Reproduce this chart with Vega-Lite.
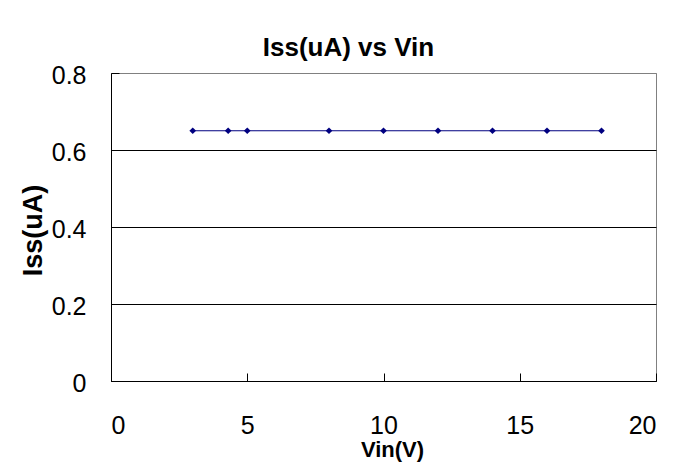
{
  "$schema": "https://vega.github.io/schema/vega-lite/v6.json",
  "width": 545,
  "height": 308,
  "autosize": "none",
  "padding": {"left": 111, "top": 73, "right": 27, "bottom": 87},
  "background": "white",
  "title": {"text": "Iss(uA) vs Vin", "font": "Liberation Sans", "fontSize": 26, "fontWeight": "bold", "color": "black", "offset": 2, "frame": "group", "anchor": "middle", "dx": -35},
  "data": {"values": [
    {"vin": 3, "iss": 0.65},
    {"vin": 4.3, "iss": 0.65},
    {"vin": 5, "iss": 0.65},
    {"vin": 8, "iss": 0.65},
    {"vin": 10, "iss": 0.65},
    {"vin": 12, "iss": 0.65},
    {"vin": 14, "iss": 0.65},
    {"vin": 16, "iss": 0.65},
    {"vin": 18, "iss": 0.65}
  ]},
  "encoding": {
    "x": {"field": "vin", "type": "quantitative", "scale": {"domain": [0, 20], "nice": false},
      "axis": {"values": [0, 5, 10, 15, 20], "title": "Vin(V)", "grid": false, "tickSize": -8, "tickColor": "black", "domainColor": "black", "labelFont": "Liberation Sans", "labelFontSize": 25, "labelColor": "black", "labelPadding": 40, "titleFont": "Liberation Sans", "titleFontSize": 22, "titleFontWeight": "bold", "titleColor": "black", "titleX": 281, "titleY": 58}},
    "y": {"field": "iss", "type": "quantitative", "scale": {"domain": [0, 0.8], "nice": false},
      "axis": {"values": [0, 0.2, 0.4, 0.6, 0.8], "format": ".1~f", "title": "Iss(uA)", "grid": true, "gridColor": {"condition": {"test": "datum.value === 0.8", "value": "#808080"}, "value": "black"}, "gridOpacity": 1, "tickSize": -8, "tickColor": "black", "domainColor": "black", "labelFont": "Liberation Sans", "labelFontSize": 25, "labelColor": "black", "labelPadding": 33, "labelOffset": 2, "titleFont": "Liberation Sans", "titleFontSize": 27, "titleFontWeight": "bold", "titleColor": "black", "titleX": -78, "titleY": 157, "titleBaseline": "middle"}}
  },
  "layer": [
    {"mark": {"type": "line", "color": "#000080", "strokeWidth": 1}},
    {"mark": {"type": "point", "shape": "diamond", "filled": true, "color": "#000080", "size": 45, "opacity": 1}}
  ],
  "config": {"view": {"stroke": "#808080", "strokeWidth": 1}}
}
